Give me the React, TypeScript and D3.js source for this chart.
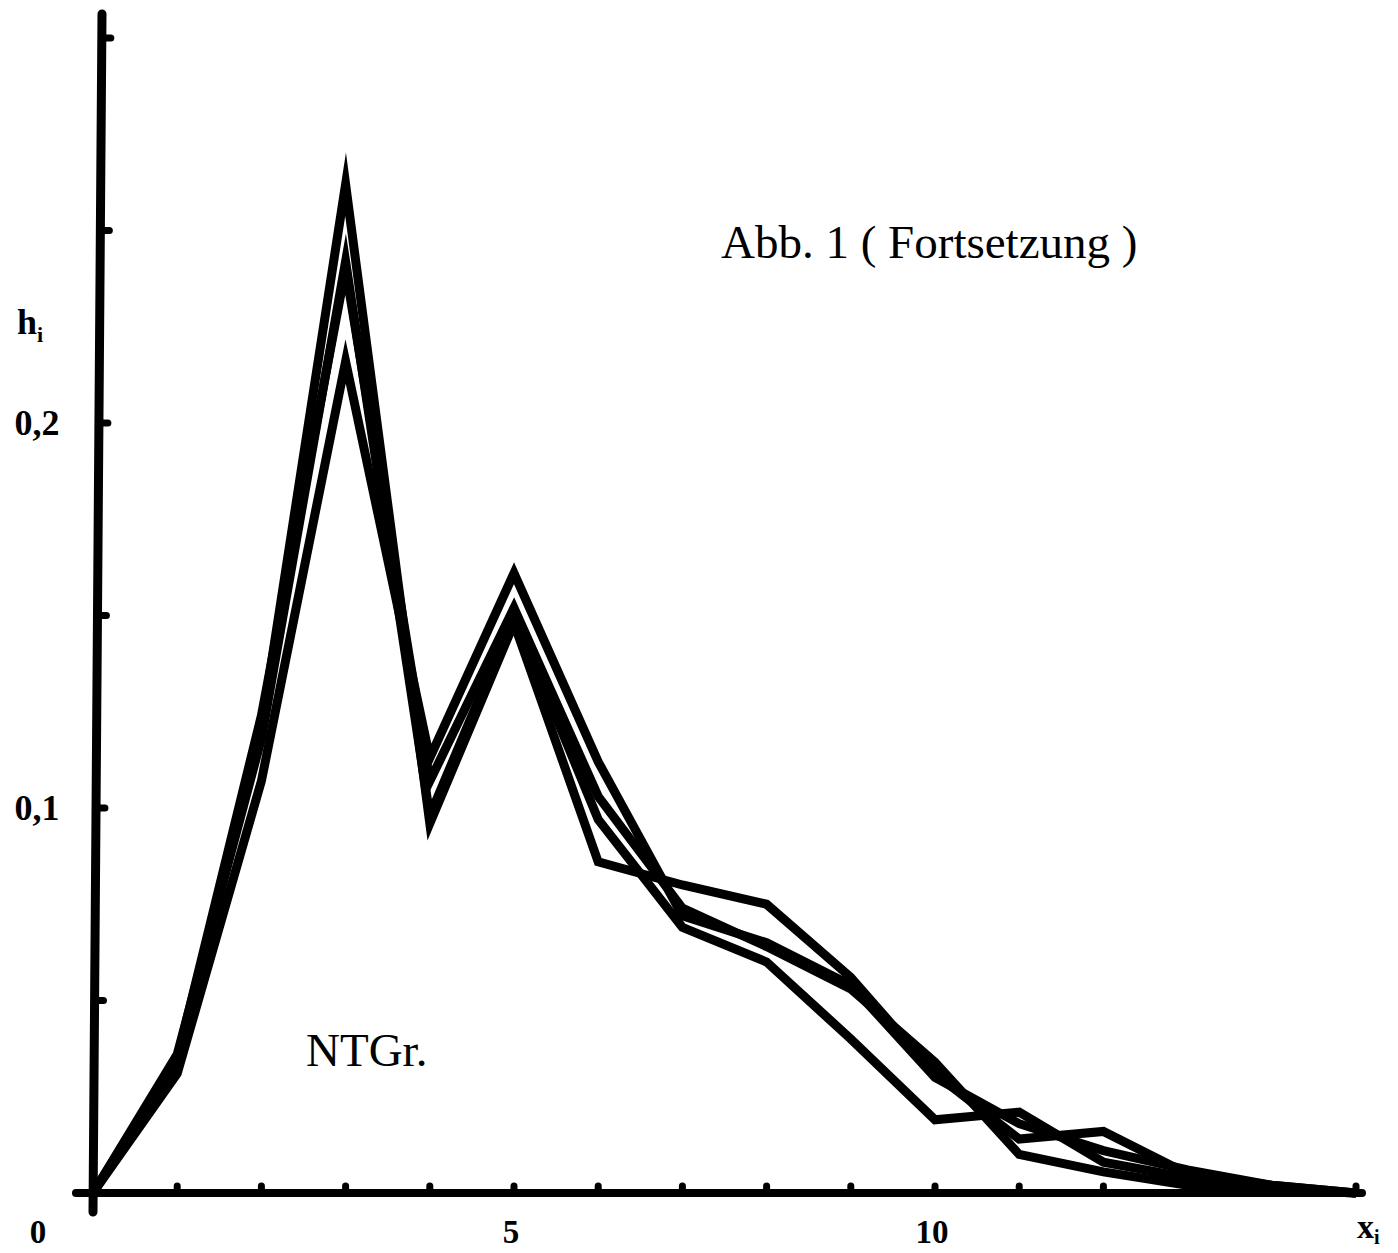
import React from "react";
import * as d3 from "d3";

// x_i classes and the four frequency polygons h_i
const xValues = [0, 1, 2, 3, 4, 5, 6, 7, 8, 9, 10, 11, 12, 13, 14, 15];
const seriesA = [0, 0.033, 0.121, 0.262, 0.096, 0.148, 0.086, 0.08, 0.075, 0.056, 0.031, 0.014, 0.016, 0.005, 0.002, 0];
const seriesB = [0, 0.036, 0.118, 0.242, 0.098, 0.15, 0.097, 0.069, 0.06, 0.04, 0.019, 0.021, 0.008, 0.004, 0.001, 0];
const seriesC = [0, 0.035, 0.124, 0.24, 0.107, 0.152, 0.103, 0.074, 0.064, 0.053, 0.034, 0.01, 0.0055, 0.002, 0.001, 0];
const seriesD = [0, 0.031, 0.107, 0.216, 0.113, 0.161, 0.112, 0.072, 0.065, 0.054, 0.03, 0.018, 0.011, 0.006, 0.002, 0];

const xTicks = [1, 2, 3, 4, 5, 6, 7, 8, 9, 10, 11, 12, 13, 14, 15];
const xTickLabels = [0, 5, 10];
const yTicks = [0.05, 0.1, 0.15, 0.2, 0.25, 0.3];
const yTickLabels = [0.1, 0.2];

const W = 1398;
const H = 1253;
const serif = "'Liberation Serif', 'DejaVu Serif', serif";

export default function App() {
  const x = d3.scaleLinear().domain([0, 15]).range([93, 1356]);
  const y = d3.scaleLinear().domain([0, 0.3]).range([1193, 38]);

  // the scanned y axis leans a little to the right towards the top
  const axisX = (py: number) => x(0) + (y(0) - py) * (9 / 1180);

  const line = d3
    .line<number>()
    .x((_, i) => x(xValues[i]))
    .y((d) => y(d));

  const series = [seriesA, seriesB, seriesC, seriesD];
  const fmt = (v: number) => d3.format(".1f")(v).replace(".", ",");

  return (
    <svg
      width={W}
      height={H}
      style={{ position: "absolute", left: 0, top: 0, background: "#fff" }}
    >
      {/* axes */}
      <line x1={76} y1={y(0)} x2={1362} y2={y(0)} stroke="#000" strokeWidth={8} strokeLinecap="round" />
      <line x1={x(0)} y1={1212} x2={axisX(14)} y2={14} stroke="#000" strokeWidth={9} strokeLinecap="round" />

      {xTicks.map((t) => (
        <line key={"xt" + t} x1={x(t)} y1={y(0)} x2={x(t)} y2={y(0) - 7} stroke="#000" strokeWidth={7} strokeLinecap="round" />
      ))}
      {yTicks.map((t) => (
        <line
          key={"yt" + t}
          x1={axisX(y(t))}
          y1={y(t)}
          x2={axisX(y(t)) + 9}
          y2={y(t)}
          stroke="#000"
          strokeWidth={7}
          strokeLinecap="round"
        />
      ))}

      {/* polygons */}
      {series.map((s, i) => (
        <path
          key={"s" + i}
          d={line(s) ?? ""}
          fill="none"
          stroke="#000"
          strokeWidth={9}
          strokeLinejoin="miter"
          strokeMiterlimit={10}
        />
      ))}

      {/* tick labels */}
      <g fontFamily={serif} fontWeight="bold" fill="#000">
        {xTickLabels.map((t) => (
          <text key={"xl" + t} x={t === 0 ? 38 : x(t) - 3} y={1243} fontSize={33} textAnchor="middle">
            {t}
          </text>
        ))}
        {yTickLabels.map((t) => (
          <text key={"yl" + t} x={37} y={y(t) + 12} fontSize={36} textAnchor="middle">
            {fmt(t)}
          </text>
        ))}
        <text x={17} y={334} fontSize={36}>
          h<tspan fontSize={22} dy={8}>i</tspan>
        </text>
        <text x={1357} y={1238} fontSize={34}>
          x<tspan fontSize={20} dy={6}>i</tspan>
        </text>
      </g>

      {/* annotations */}
      <g fontFamily={serif} fontSize={47} fill="#000">
        <text x={721} y={258}>Abb. 1 ( Fortsetzung )</text>
        <text x={306} y={1066}>NTGr.</text>
      </g>
    </svg>
  );
}
